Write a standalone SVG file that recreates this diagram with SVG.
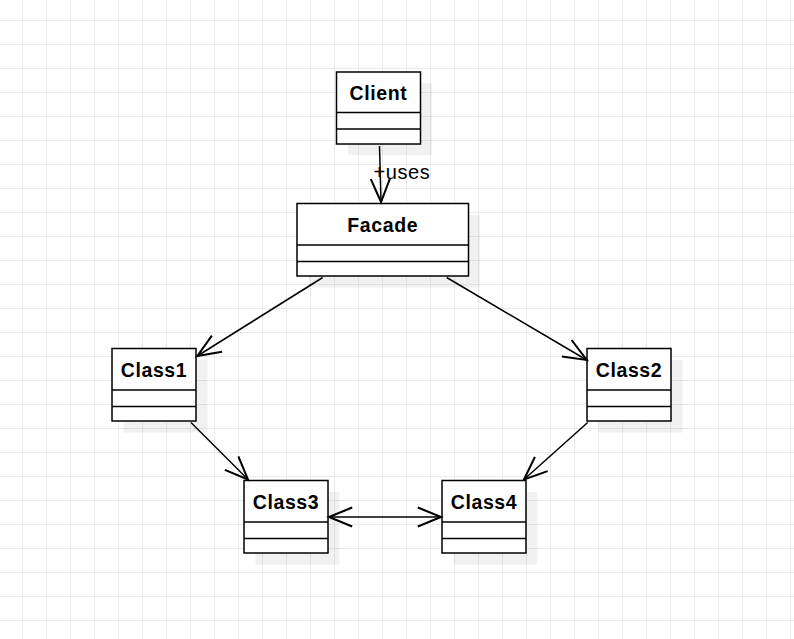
<svg xmlns="http://www.w3.org/2000/svg" width="794" height="639" viewBox="0 0 794 639">
<defs>
<pattern id="grid" x="22" y="20" width="24" height="24" patternUnits="userSpaceOnUse">
<path d="M 0.5 0 V 24 M 0 0.5 H 24" fill="none" stroke="#ebebeb" stroke-width="1"/>
</pattern>
<marker id="open" markerUnits="userSpaceOnUse" markerWidth="30" markerHeight="30" viewBox="-20 -10 22 20" refX="0" refY="0" orient="auto-start-reverse">
<path d="M -17 -7 L 0 0 L -17 7" fill="none" stroke="#000" stroke-width="1.5"/>
</marker>
</defs>
<style>
.box{fill:#fff;stroke:#000;stroke-width:1.5}
.shadow{fill:#000;fill-opacity:0.055}
.div{stroke:#000;stroke-width:1.5}
.title{font-family:"Liberation Sans",Arial,sans-serif;font-weight:bold;font-size:19.5px;letter-spacing:0.6px;text-anchor:middle;fill:#000}
.lbl{font-family:"Liberation Sans",Arial,sans-serif;font-size:20px;letter-spacing:0.6px;fill:#000}
.edge{fill:none;stroke:#000;stroke-width:1.5}
</style>
<rect width="794" height="639" fill="#fff"/>
<rect width="794" height="639" fill="url(#grid)"/>

<g id="Client">
<rect class="shadow" x="348" y="83" width="84" height="72"/>
<rect class="box" x="336.5" y="72" width="84" height="72"/>
<line class="div" x1="336.5" y1="112.5" x2="420.5" y2="112.5"/>
<line class="div" x1="336.5" y1="129" x2="420.5" y2="129"/>
<text class="title" x="378.5" y="99.5">Client</text>
</g>

<g id="Facade">
<rect class="shadow" x="308.5" y="215" width="171.5" height="72.5"/>
<rect class="box" x="297" y="203.5" width="171.5" height="72.5"/>
<line class="div" x1="297" y1="245" x2="468.5" y2="245"/>
<line class="div" x1="297" y1="261.5" x2="468.5" y2="261.5"/>
<text class="title" x="382.75" y="231.5">Facade</text>
</g>

<g id="Class1">
<rect class="shadow" x="123.5" y="360" width="84" height="72.5"/>
<rect class="box" x="112" y="348.5" width="84" height="72.5"/>
<line class="div" x1="112" y1="390" x2="196" y2="390"/>
<line class="div" x1="112" y1="406.5" x2="196" y2="406.5"/>
<text class="title" x="154" y="376.5">Class1</text>
</g>

<g id="Class2">
<rect class="shadow" x="598.5" y="360" width="84" height="72.5"/>
<rect class="box" x="587" y="348.5" width="84" height="72.5"/>
<line class="div" x1="587" y1="390" x2="671" y2="390"/>
<line class="div" x1="587" y1="406.5" x2="671" y2="406.5"/>
<text class="title" x="629" y="376.5">Class2</text>
</g>

<g id="Class3">
<rect class="shadow" x="255.5" y="492" width="84" height="72.5"/>
<rect class="box" x="244" y="480.5" width="84" height="72.5"/>
<line class="div" x1="244" y1="522" x2="328" y2="522"/>
<line class="div" x1="244" y1="538.5" x2="328" y2="538.5"/>
<text class="title" x="286" y="508.5">Class3</text>
</g>

<g id="Class4">
<rect class="shadow" x="453.5" y="492" width="84" height="72.5"/>
<rect class="box" x="442" y="480.5" width="84" height="72.5"/>
<line class="div" x1="442" y1="522" x2="526" y2="522"/>
<line class="div" x1="442" y1="538.5" x2="526" y2="538.5"/>
<text class="title" x="484" y="508.5">Class4</text>
</g>

<g id="connectors">
<path class="edge" d="M 379.5 146 L 381 202" marker-end="url(#open)"/>
<text class="lbl" x="373.5" y="178.5">+uses</text>
<path class="edge" d="M 322.7 277.5 L 197.3 356" marker-end="url(#open)"/>
<path class="edge" d="M 446.7 277.5 L 586.7 360" marker-end="url(#open)"/>
<path class="edge" d="M 191 422.5 L 248 479.5" marker-end="url(#open)"/>
<path class="edge" d="M 587.7 422.5 L 524 479.5" marker-end="url(#open)"/>
<path class="edge" d="M 329 517 L 441 517" marker-start="url(#open)" marker-end="url(#open)"/>
</g>
</svg>
